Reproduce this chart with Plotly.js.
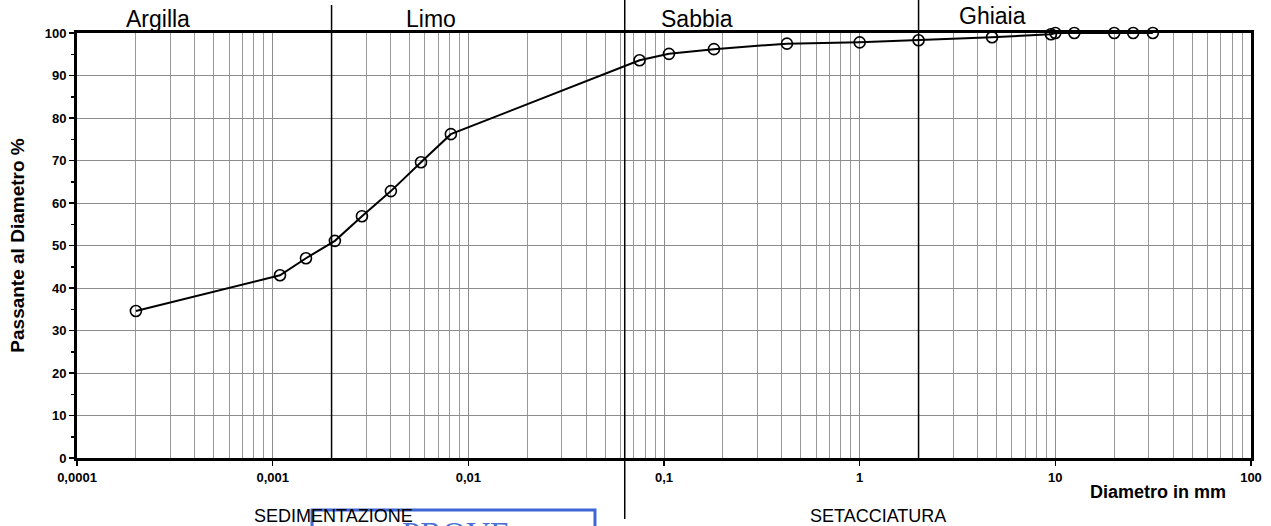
<!DOCTYPE html>
<html>
<head>
<meta charset="utf-8">
<script src="https://cdn.plot.ly/plotly-3.0.1.min.js"></script>
<style>html,body{margin:0;padding:0;background:#fff;}#chart{width:1271px;height:526px;}</style>
</head>
<body>
<div id="chart"></div>
<script>
// Data
const diametri = [0.0002, 0.00109, 0.00148, 0.00208, 0.00286, 0.00402, 0.00573, 0.00814,
  0.075, 0.106, 0.18, 0.425, 1.0, 2.0, 4.75, 9.5, 10, 12.5, 20, 25, 31.5];
const passante = [34.6, 43.0, 47.0, 51.1, 56.9, 62.8, 69.6, 76.2,
  93.6, 95.1, 96.2, 97.5, 97.8, 98.3, 99.0, 99.7, 100, 100, 100, 100, 100];

const xTickVals = [0.0001, 0.001, 0.01, 0.1, 1, 10, 100];
const xTickText = ["0,0001", "0,001", "0,01", "0,1", "1", "10", "100"];
const yTickVals = [0, 10, 20, 30, 40, 50, 60, 70, 80, 90, 100];

const zoneNames = ["Argilla", "Limo", "Sabbia", "Ghiaia"];
const zoneLabelX = [0.000258, 0.00645, 0.148, 4.80];
const zoneLabelY = [1.034, 1.032, 1.032, 1.039];
const zoneLimits = [0.002, 0.063, 2];
const methodNames = ["SEDIMENTAZIONE", "SETACCIATURA"];
const methodX = [0.00205, 1.24];

// minor grid values 2..9 in each decade
const minorVals = [];
for (let e = -4; e < 2; e++) {
  for (let d = 2; d <= 9; d++) minorVals.push(d * Math.pow(10, e));
}

const FONT = "Liberation Sans, Arial, sans-serif";

const trace = {
  x: diametri, y: passante,
  type: "scatter", mode: "lines+markers",
  line: {color: "#000", width: 2},
  marker: {symbol: "circle-open", size: 11, color: "#000", line: {width: 1.6, color: "#000"}},
  cliponaxis: false,
  hoverinfo: "x+y"
};

const shapes = [];
// zone boundary lines
const lineBottoms = [0, -0.1435, 0];
const lineTops = [1.066, 1.078, 1.078];
zoneLimits.forEach((v, i) => {
  shapes.push({type: "line", xref: "x", yref: "paper", x0: v, x1: v,
    y0: lineBottoms[i], y1: lineTops[i], line: {color: "#000", width: 1.5}, layer: "above"});
});
// stamp box (partially visible)
shapes.push({type: "rect", xref: "paper", yref: "paper", x0: 0.2002, x1: 0.4412,
  y0: -0.30, y1: -0.1224, line: {color: "#3e66d6", width: 3}, fillcolor: "rgba(0,0,0,0)", layer: "above"});

const annotations = [];
zoneNames.forEach((n, i) => {
  annotations.push({text: n, xref: "x", yref: "paper", x: Math.log10(zoneLabelX[i]), y: zoneLabelY[i],
    xanchor: "center", yanchor: "middle", showarrow: false,
    font: {family: FONT, size: 23, color: "#000"}});
});
methodNames.forEach((n, i) => {
  annotations.push({text: n, xref: "x", yref: "paper", x: Math.log10(methodX[i]), y: -0.1375,
    xanchor: "center", yanchor: "middle", showarrow: false,
    font: {family: FONT, size: 18, color: "#000"}});
});
annotations.push({text: "PROVE", xref: "paper", yref: "paper", x: 0.275, y: -0.1318,
  xanchor: "left", yanchor: "top", showarrow: false,
  font: {family: "Liberation Serif, Times New Roman, serif", size: 33, color: "#4a70d4"}});
annotations.push({text: "<b>Diametro in mm</b>", xref: "paper", yref: "paper", x: 0.9804, y: -0.080,
  xanchor: "right", yanchor: "middle", showarrow: false,
  font: {family: FONT, size: 18, color: "#000"}});

const layout = {
  width: 1271, height: 526,
  margin: {l: 77, r: 20, t: 33, b: 68},
  paper_bgcolor: "#fff", plot_bgcolor: "#fff",
  showlegend: false,
  font: {family: FONT, color: "#000"},
  xaxis: {
    type: "log", range: [-4, 2],
    tickmode: "array", tickvals: xTickVals, ticktext: xTickText,
    ticks: "outside", ticklen: 5, tickwidth: 1.5, tickcolor: "#000",
    tickfont: {family: FONT, size: 13, color: "#000", weight: "bold"},
    showgrid: true, gridcolor: "#8c8c8c", gridwidth: 1,
    minor: {tickmode: "array", tickvals: minorVals, showgrid: true, gridcolor: "#9a9a9a", gridwidth: 1, ticks: ""},
    showline: true, linecolor: "#000", linewidth: 3, mirror: true,
    zeroline: false, fixedrange: true
  },
  yaxis: {
    range: [0, 100],
    tickmode: "array", tickvals: yTickVals,
    ticks: "outside", ticklen: 5, tickwidth: 1.5, tickcolor: "#000",
    tickfont: {family: FONT, size: 13, color: "#000", weight: "bold"},
    showgrid: true, gridcolor: "#8c8c8c", gridwidth: 1,
    minor: {dtick: 5, ticks: "outside", ticklen: 3, tickwidth: 1.5, tickcolor: "#000", showgrid: false},
    showline: true, linecolor: "#000", linewidth: 3, mirror: true,
    zeroline: false, fixedrange: true,
    title: {text: "<b>Passante al Diametro %</b>", font: {family: FONT, size: 19, color: "#000"}, standoff: 16}
  },
  shapes: shapes,
  annotations: annotations
};

Plotly.newPlot("chart", [trace], layout, {displayModeBar: false, staticPlot: true});
</script>
</body>
</html>
